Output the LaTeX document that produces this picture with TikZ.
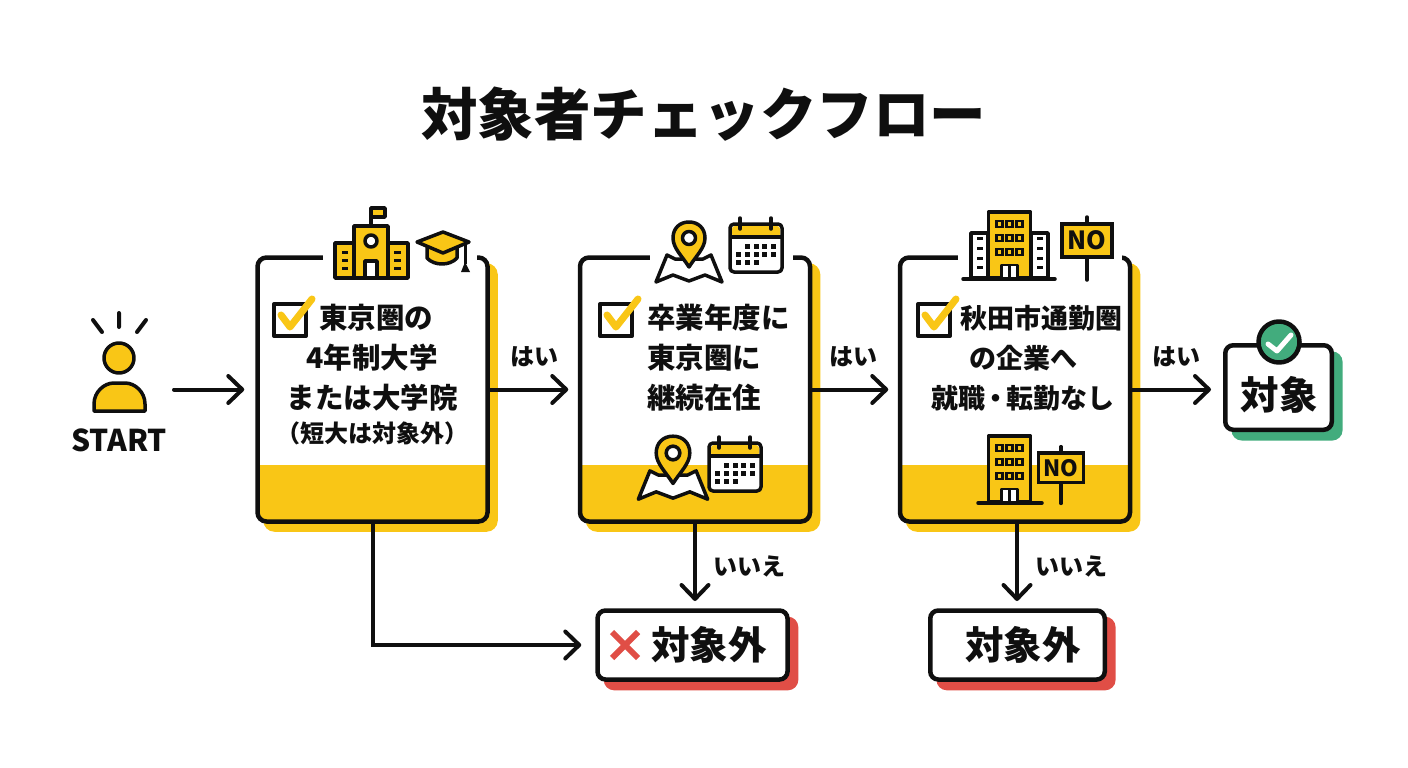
\documentclass[tikz,border=0pt]{standalone}
\usepackage{fontspec}
\usepackage{xcolor}
\usetikzlibrary{arrows.meta}
\setmainfont{Noto Sans CJK JP}
\definecolor{inkblack}{RGB}{15, 15, 15}
\definecolor{brandyellow}{RGB}{249, 198, 22}
\definecolor{okgreen}{RGB}{66, 172, 125}
\definecolor{ngred}{RGB}{224, 78, 70}
\newcommand{\fsize}[2]{\fontsize{#1}{#2}\selectfont\bfseries}
\tikzset{
    cardbox/.style={draw=inkblack,line width=4.5pt,rounded corners=9pt,fill=white,minimum width=230pt,minimum height=264pt,
        preaction={draw=brandyellow,fill=brandyellow,transform canvas={shift={(8pt,-8pt)}}},
        path picture={\fill[brandyellow,sharp corners] (path picture bounding box.south west) rectangle ([yshift=56.5pt]path picture bounding box.south east);}},
    resultbox/.style={draw=inkblack,line width=4.5pt,rounded corners=8pt,fill=white,
        preaction={draw=#1,fill=#1,transform canvas={shift={(8.5pt,-8.5pt)}}}},
    cardtext/.style={font=\fsize{28.5}{40},text=inkblack,inner sep=0pt},
    resulttext/.style={font=\fsize{38.5}{38},text=inkblack,inner sep=0pt},
    flowlabel/.style={font=\fsize{24}{24},text=inkblack,inner sep=0pt},
    flowarrow/.style={draw=inkblack,line width=4pt,line cap=round,-{Straight Barb[length=14pt,width=27pt,round]}},
    iconline/.style={draw=inkblack,line width=3.5pt,line join=round},
    checkbox/.pic={
        \draw[iconline,fill=white,line width=4pt] (-16,-16) rectangle (16,16);
        \draw[brandyellow,line width=7pt,line cap=round,line join=round] (-9,-5) -- (0,7) -- (22,-21);
    },
    pinmap/.pic={
        \draw[iconline,fill=white] (-33,44) -- (-22,17) -- (-14,21) -- (14,21) -- (22,17) -- (33,44) -- (16,37) -- (0,43) -- (-16,37) -- cycle;
        \draw[iconline,fill=brandyellow] (0,29) .. controls (-7,18) and (-16,10) .. (-16,0) .. controls (-16,-10) and (-9,-16) .. (0,-16) .. controls (9,-16) and (16,-10) .. (16,0) .. controls (16,10) and (7,18) .. (0,29) -- cycle;
        \draw[iconline,fill=white] (0,0) circle (6.5);
    },
    calendaricon/.pic={
        \draw[iconline,fill=white,rounded corners=4pt] (-26,-24) rectangle (26,24);
        \fill[brandyellow,rounded corners=3pt] (-24,-22) rectangle (24,-11);
        \draw[iconline] (-26,-11) -- (26,-11);
        \draw[iconline,line cap=round] (-16,-30) -- (-16,-19) (15,-30) -- (15,-19);
        \foreach \col in {-9,0,8,17} \fill[inkblack] (\col-2.5,-4.5) rectangle (\col+2.5,0.5);
        \foreach \col in {-18,-9,0,8,17} \fill[inkblack] (\col-2.5,3.5) rectangle (\col+2.5,8.5);
        \foreach \col in {-18,-9,0} \fill[inkblack] (\col-2.5,11.5) rectangle (\col+2.5,16.5);
    },
    towericon/.pic={
        \draw[iconline,fill=brandyellow] (-21,0) rectangle (21,-66);
        \foreach \col in {-10,0,10} \foreach \row in {-54,-40,-26}
            \draw[inkblack,line width=2.5pt,fill=brandyellow] (\col-3,\row-3) rectangle (\col+3,\row+3);
        \draw[iconline,fill=white,line width=2.5pt] (-8,0) rectangle (8,-13);
        \draw[inkblack,line width=2.5pt] (0,0) -- (0,-13);
    },
    signicon/.pic={
        \draw[iconline,line cap=round] (0,-7) -- (0,56);
        \node[draw=inkblack,line width=3.5pt,fill=brandyellow,text=inkblack,minimum width=50pt,minimum height=33pt,inner sep=0pt,font=\fsize{25}{25},transform shape] (-plate) at (0,16.5) {NO};
    }
}

\begin{document}
\begin{tikzpicture}[x=1pt,y=-1pt]
    \useasboundingbox (0,0) rectangle (1408,768);

    % Title
    \node[font=\fsize{56.5}{57},text=inkblack,inner sep=0pt] (title) at (703.5,114) {対象者チェックフロー};

    % Start person
    \draw[inkblack,line width=4pt,line cap=round] (119,313) -- (119,327) (93,320) -- (102,332) (146,320) -- (137,332);
    \draw[iconline,fill=brandyellow] (119,358) circle (15);
    \draw[iconline,fill=brandyellow] (94,411) -- (94,404) .. controls (94,392) and (104,383) .. (114,383) -- (125,383) .. controls (135,383) and (145,392) .. (145,404) -- (145,411) -- cycle;
    \node[font=\fsize{30}{30},text=inkblack,inner sep=0pt] (start) at (119,440) {START};
    \coordinate (startout) at (174,389.5);

    % Cards
    \node[cardbox] (school) at (372.5,389.5) {};
    \node[cardbox] (stay) at (695,389.5) {};
    \node[cardbox] (company) at (1015,389.5) {};
    \fill[white] (323,250) rectangle (477,263);
    \fill[white] (650,250) rectangle (793,263);
    \fill[white] (958,250) rectangle (1122,263);

    % School card
    \draw[iconline,fill=brandyellow] (371,226) -- (371,208) -- (385,208) -- (385,217) -- (371,217);
    \draw[iconline,fill=brandyellow] (335,243) rectangle (355,278);
    \draw[iconline,fill=brandyellow] (388,243) rectangle (408,278);
    \draw[iconline,fill=brandyellow] (354,226) rectangle (388,278);
    \draw[iconline,fill=white] (371,241) circle (6);
    \draw[iconline,fill=white] (365,261) rectangle (377,278);
    \foreach \row in {252,260,268} {
        \fill[inkblack] (342,\row-1.5) rectangle (348,\row+1.5);
        \fill[inkblack] (394,\row-1.5) rectangle (401,\row+1.5);
    }
    \draw[iconline,fill=brandyellow] (427,247) -- (427,258) .. controls (434,266) and (450,266) .. (457,258) -- (457,247);
    \draw[iconline,fill=brandyellow] (417,242) -- (443,232) -- (469,242) -- (443,253) -- cycle;
    \draw[inkblack,line width=3pt] (465,243) -- (465,264);
    \fill[inkblack] (465,262) -- (470,272) -- (461,272) -- cycle;
    \pic at (290,320) {checkbox};
    \node[cardtext,align=center] (schooltext) at (372,358) {\hspace*{8pt}東京圏の\\4年制大学\\または大学院};
    \node[cardtext,font=\fsize{24}{24}] (schoolnote) at (372,433) {（短大は対象外）};

    % Stay card
    \pic at (689,238) {pinmap};
    \pic at (756,248) {calendaricon};
    \pic at (616,320) {checkbox};
    \node[cardtext,align=left,anchor=west] (staytext) at (647,358) {卒業年度に\\東京圏に\\継続在住};
    \pic[scale=1.05] at (673,453) {pinmap};
    \pic at (735,467) {calendaricon};

    % Company card
    \draw[iconline,fill=white] (971,233) rectangle (988,278);
    \draw[iconline,fill=white] (1031,233) rectangle (1048,278);
    \foreach \row in {238,248,258,267} {
        \fill[inkblack] (977,\row-1.5) rectangle (983,\row+1.5);
        \fill[inkblack] (1037,\row-1.5) rectangle (1043,\row+1.5);
    }
    \pic at (1009.5,278) {towericon};
    \draw[inkblack,line width=3.5pt,line cap=round] (963,279) -- (1055,279);
    \pic (topsign) at (1087,224) {signicon};
    \pic at (934,320) {checkbox};
    \node[cardtext,align=center,font=\fsize{27}{40}] (companytext) at (1023,358) {\hspace*{36pt}秋田市通勤圏\\の企業へ\\就職\kern-3pt・\kern-3pt転勤なし};
    \pic at (1009.5,502) {towericon};
    \draw[inkblack,line width=3.5pt,line cap=round] (978,503) -- (1042,503);
    \pic (lowsign) [scale=.9,transform shape] at (1061,453) {signicon};

    % Results
    \node[resultbox=okgreen,minimum width=106.5pt,minimum height=84.5pt] (target) at (1278.5,387.5) {};
    \node[resulttext] (targettext) at (1279,395) {対象};
    \draw[iconline,line width=4.5pt,fill=okgreen] (1279,342) circle (20.5);
    \draw[white,line width=5pt,line cap=round,line join=round] (1268,344) -- (1277,351) -- (1291,335);
    \node[resultbox=ngred,minimum width=190pt,minimum height=69pt] (exclude) at (692.5,645) {};
    \draw[ngred,line width=6pt] (612,632) -- (638,658) (638,632) -- (612,658);
    \node[resulttext] (excludetext) at (709,645) {対象外};
    \node[resultbox=ngred,minimum width=174.5pt,minimum height=69pt] (excludeb) at (1017.5,645) {};
    \node[resulttext] (excludebtext) at (1023,645) {対象外};

    % Connectors
    \draw[flowarrow,shorten >=11pt] (startout) -- (school.west);
    \draw[flowarrow,shorten >=9.5pt] (school.east) -- (stay.west);
    \draw[flowarrow,shorten >=9.5pt] (stay.east) -- (company.west);
    \draw[flowarrow,shorten >=12pt] (company.east) -- (company.east -| target.west);
    \draw[flowarrow] (school.south) |- ([xshift=-14pt]exclude.west);
    \coordinate (staynoend) at (695,601);
    \coordinate (companynoend) at (1017,601);
    \draw[flowarrow] (stay.south) -- (staynoend);
    \draw[flowarrow] (company.south -| companynoend) -- (companynoend);

    % Labels
    \node[flowlabel] (yesa) at (534,357) {はい};
    \node[flowlabel] (yesb) at (853,357) {はい};
    \node[flowlabel] (yesc) at (1176,357) {はい};
    \node[flowlabel] (noa) at (749,566) {いいえ};
    \node[flowlabel] (nob) at (1071,566) {いいえ};
\end{tikzpicture}
\end{document}
